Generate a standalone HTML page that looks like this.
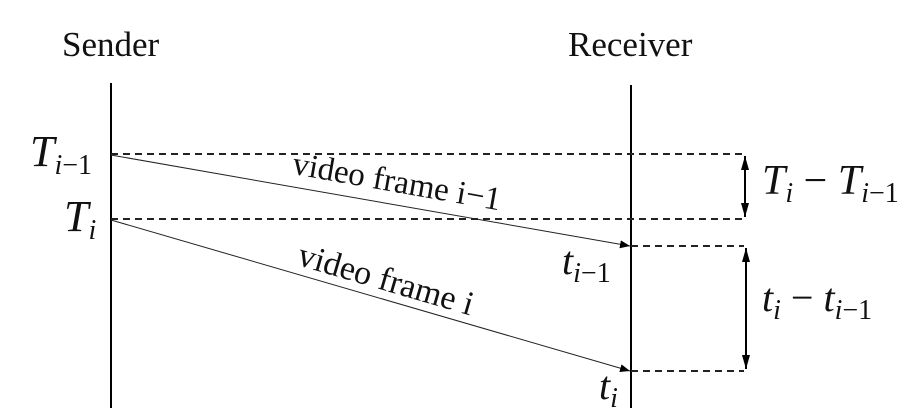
<!DOCTYPE html>
<html><head><style>body{margin:0;background:#fff}svg{display:block}text{font-family:"Liberation Serif",serif;fill:#111}.m{font-style:italic}</style></head>
<body>
<svg width="920" height="408" viewBox="0 0 920 408">
<defs><marker id="a" markerWidth="10" markerHeight="8" refX="10" refY="4" orient="auto" markerUnits="userSpaceOnUse"><path d="M0,0L10,4L0,8z" fill="#000"/></marker>
<marker id="b" markerWidth="8" markerHeight="14" refX="4" refY="0" orient="0" markerUnits="userSpaceOnUse"><path d="M0,14L4,0L8,14z" fill="#000"/></marker>
<marker id="c" markerWidth="8" markerHeight="14" refX="4" refY="14" orient="0" markerUnits="userSpaceOnUse"><path d="M0,0L4,14L8,0z" fill="#000"/></marker></defs>
<text x="62" y="56" font-size="35">Sender</text>
<text x="568" y="56" font-size="35">Receiver</text>
<line x1="111" y1="83" x2="111" y2="408" stroke="#000" stroke-width="2"/>
<line x1="631" y1="85" x2="631" y2="408" stroke="#000" stroke-width="2"/>
<g stroke="#222" stroke-width="2" stroke-dasharray="7,5">
<line x1="111" y1="154" x2="744" y2="154"/>
<line x1="111" y1="219" x2="744" y2="219"/>
<line x1="631" y1="246" x2="744" y2="246"/>
<line x1="631" y1="371" x2="744" y2="371"/>
</g>
<line x1="111" y1="155" x2="630" y2="246" stroke="#222" stroke-width="1" marker-end="url(#a)"/>
<line x1="111" y1="220" x2="630" y2="371" stroke="#222" stroke-width="1" marker-end="url(#a)"/>
<line x1="745" y1="156" x2="745" y2="217" stroke="#000" stroke-width="2" marker-start="url(#b)" marker-end="url(#c)"/>
<line x1="746" y1="248" x2="746" y2="369" stroke="#000" stroke-width="2" marker-start="url(#b)" marker-end="url(#c)"/>
<text x="395" y="192" font-size="33" text-anchor="middle" transform="rotate(10 395 192)">video frame i−1</text>
<text x="383" y="290" font-size="34" text-anchor="middle" transform="rotate(16.3 383 290)">video frame i</text>
<text x="30" y="166" font-size="44" class="m">T<tspan font-size="28" dy="8">i</tspan><tspan font-size="28" font-style="normal">−1</tspan></text>
<text x="64" y="231" font-size="44" class="m">T<tspan font-size="28" dy="8">i</tspan></text>
<text x="562" y="274" font-size="40" class="m">t<tspan font-size="28" dy="8">i</tspan><tspan font-size="28" font-style="normal">−1</tspan></text>
<text x="599" y="399" font-size="40" class="m">t<tspan font-size="28" dy="8">i</tspan></text>
<text x="762" y="194" font-size="42" class="m">T<tspan font-size="28" dy="8">i</tspan><tspan dy="-8" font-style="normal"> − </tspan>T<tspan font-size="28" dy="8">i</tspan><tspan font-size="28" font-style="normal">−1</tspan></text>
<text x="762" y="311" font-size="40" class="m">t<tspan font-size="28" dy="8">i</tspan><tspan dy="-8" font-style="normal"> − </tspan>t<tspan font-size="28" dy="8">i</tspan><tspan font-size="28" font-style="normal">−1</tspan></text>
</svg>
</body></html>
